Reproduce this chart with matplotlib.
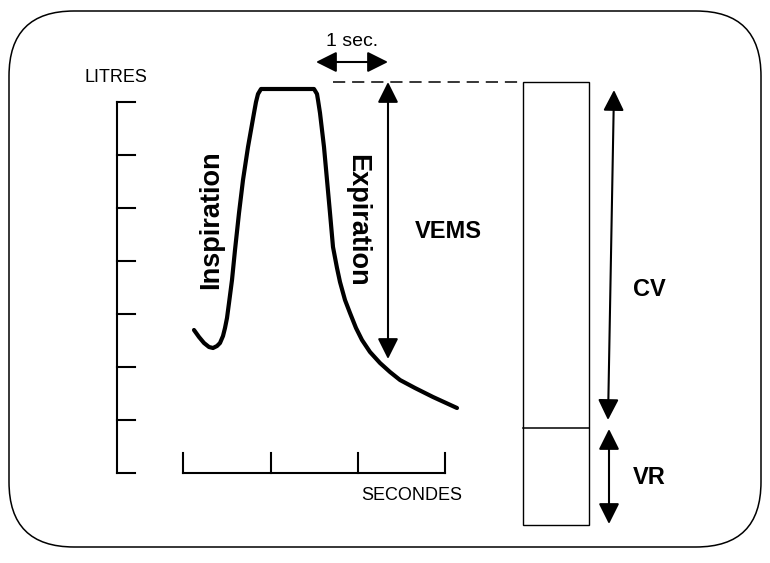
import matplotlib
matplotlib.use("Agg")
import matplotlib.pyplot as plt
from matplotlib.patches import FancyBboxPatch, FancyArrowPatch, Rectangle

plt.rcParams['font.family'] = ['Liberation Sans', 'DejaVu Sans']

# =========================
# DATA (drawing units = pixels of the 770x563 picture, y downwards)
# =========================
# spirogram trace
curve_x = [194, 199, 204, 209, 213, 217, 220, 223, 225, 227, 229, 232, 235, 239, 243, 248, 254,
           256, 258, 261,
           314, 317, 318, 320, 324, 327, 330, 333, 337, 340, 345, 350, 356, 362, 370, 380, 390,
           400, 415, 433, 457]
curve_y = [330, 337, 343, 347, 348, 346, 343, 336, 328, 318, 303, 280, 250, 213, 180, 147, 113,
           102, 94, 89,
           89, 94, 100, 113, 147, 180, 213, 247, 268, 282, 300, 313, 328, 340, 352, 363, 372,
           380, 388, 397, 408]

# litres axis ticks and seconds axis ticks
litre_ticks = [102, 155, 208, 261, 314, 367, 420, 473]
second_ticks = [183, 271, 358, 445]

# volume column: top, CV/VR split, bottom
box_levels = [82, 428, 525]

# =========================
# FIGURE
# =========================
fig = plt.figure(figsize=(7.7, 5.63), dpi=100)
ax = fig.add_axes([0, 0, 1, 1])
ax.set_xlim(0, 770)
ax.set_ylim(563, 0)
ax.axis("off")

# rounded frame
frame = FancyBboxPatch((9, 11), 752, 536, boxstyle="round,pad=0,rounding_size=65",
                       fill=False, ec="black", lw=1.1)
ax.add_patch(frame)

# litres axis
ax.plot([117, 117], [litre_ticks[0], litre_ticks[-1]], color="black", lw=1.5)
for y in litre_ticks:
    ax.plot([117, 135], [y, y], color="black", lw=1.5)
ax.text(116, 78, "LITRES", fontsize=13, ha="center", va="center")

# seconds axis
ax.plot([second_ticks[0], second_ticks[-1]], [473, 473], color="black", lw=1.5)
for x in second_ticks:
    ax.plot([x, x], [473, 453], color="black", lw=1.5)
ax.text(412, 495, "SECONDES", fontsize=13, ha="center", va="center")

# trace
ax.plot(curve_x, curve_y, color="black", lw=3, solid_joinstyle="round", solid_capstyle="round")

ax.text(211, 220, "Inspiration", fontsize=19.5, fontweight="bold", rotation=90,
        ha="center", va="center")
ax.text(357, 220, "Expiration", fontsize=19.5, fontweight="bold", rotation=-90,
        ha="center", va="center")


def arrow(x0, y0, x1, y1):
    a = FancyArrowPatch((x0, y0), (x1, y1), arrowstyle="<|-|>,head_length=0.7,head_width=0.35",
                        mutation_scale=18, color="black", lw=1.5, shrinkA=0, shrinkB=0)
    ax.add_patch(a)


# 1 sec
arrow(316, 62, 388, 62)
ax.text(352, 42, "1 sec.", fontsize=14, ha="center", va="center")

# dashed level line
ax.plot([333, 523], [box_levels[0], box_levels[0]], color="black", lw=1.1,
        dashes=(8, 4.5))

# VEMS
arrow(388, 82, 388, 359)
ax.text(448, 232, "VEMS", fontsize=17, fontweight="bold", ha="center", va="center")

# volume column
ax.add_patch(Rectangle((523, box_levels[0]), 66, box_levels[2] - box_levels[0],
                       fill=False, ec="black", lw=1.0))
ax.plot([523, 589], [box_levels[1], box_levels[1]], color="black", lw=1.1)

arrow(614, 90, 608, 420)
ax.text(649, 290, "CV", fontsize=17, fontweight="bold", ha="center", va="center")
arrow(609, 429, 609, 524)
ax.text(649, 478, "VR", fontsize=17, fontweight="bold", ha="center", va="center")

fig.savefig("out.png", dpi=100)
